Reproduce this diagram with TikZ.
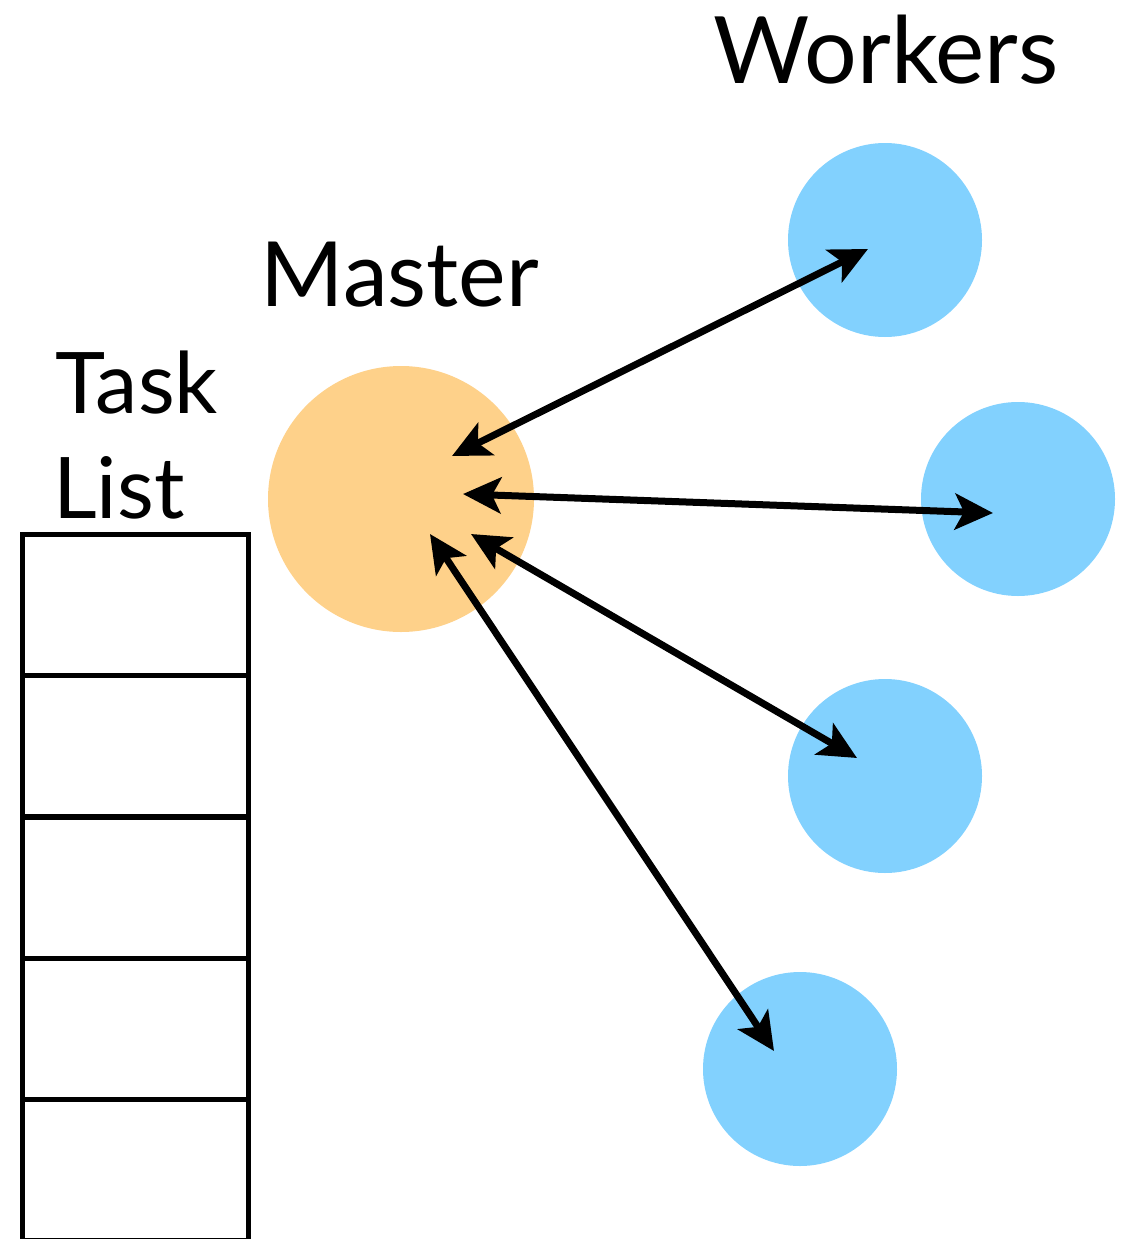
\documentclass[tikz,border=0pt]{standalone}
\usepackage{fontspec}
\setmainfont{Lato}
\usetikzlibrary{arrows.meta}
\definecolor{masterc}{HTML}{FED18A}
\definecolor{workerc}{HTML}{82D1FE}
\tikzset{
  master/.style={circle, fill=masterc, minimum size=266pt, inner sep=0pt},
  worker/.style={circle, fill=workerc, minimum size=194pt, inner sep=0pt},
  cellbox/.style={draw=black, line width=5pt, minimum width=226pt, minimum height=141pt, inner sep=0pt, fill=white},
  lbl/.style={inner sep=0pt, font=\fontsize{90}{90}\selectfont},
  link/.style={line width=7pt, {Stealth[length=38pt,width=36pt,inset=9pt]}-{Stealth[length=38pt,width=36pt,inset=9pt]}}
}
\begin{document}
\begin{tikzpicture}[x=1pt,y=-1pt]
\useasboundingbox (0,0) rectangle (1124,1239);
\node[master] (m) at (401,499) {};
\node[worker] (w1) at (885,240) {};
\node[worker] (w2) at (1018,499) {};
\node[worker] (w3) at (885,776) {};
\node[worker] (w4) at (800,1069) {};
\node[cellbox] (c1) at (135,604.5) {};
\node[cellbox] (c2) at (135,746) {};
\node[cellbox] (c3) at (135,887.5) {};
\node[cellbox] (c4) at (135,1028.5) {};
\node[cellbox] (c5) at (135,1169.5) {};
\node[lbl, anchor=base, font=\fontsize{93}{93}\selectfont] (workers) at (886,83) {Workers};
\node[lbl, anchor=base] (mastertxt) at (400,306) {Master};
\node[lbl, anchor=base west, font=\fontsize{85}{85}\selectfont] (task) at (55,413) {Task};
\node[lbl, anchor=base west, font=\fontsize{85}{85}\selectfont] (list) at (53,518) {List};
\coordinate (m1) at (452,456);
\coordinate (m2) at (463,494);
\coordinate (m3) at (471,534);
\coordinate (m4) at (430,534);
\coordinate (e1) at (868,249);
\coordinate (e2) at (993,513);
\coordinate (e3) at (857,758);
\coordinate (e4) at (774,1051);
\draw[link] (m1) -- (e1);
\draw[link] (m2) -- (e2);
\draw[link] (m3) -- (e3);
\draw[link] (m4) -- (e4);
\end{tikzpicture}
\end{document}
